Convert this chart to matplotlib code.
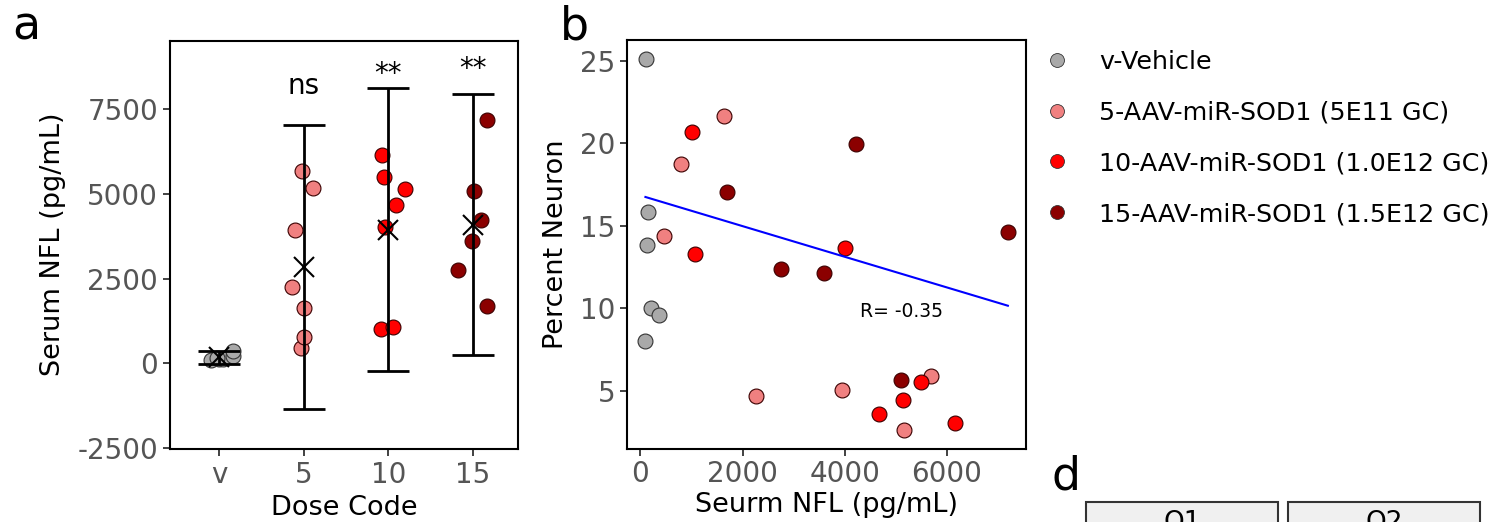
import numpy as np
import matplotlib
matplotlib.use("Agg")
import matplotlib.pyplot as plt
from matplotlib.lines import Line2D
from matplotlib.patches import Rectangle

plt.rcParams["font.family"] = ["DejaVu Sans"]
plt.rcParams["axes.unicode_minus"] = False

# group info
codes = ["v", "5", "10", "15"]
labels = [
    "v-Vehicle",
    "5-AAV-miR-SOD1 (5E11 GC)",
    "10-AAV-miR-SOD1 (1.0E12 GC)",
    "15-AAV-miR-SOD1 (1.5E12 GC)",
]
colors = ["#a9a9a9", "#f08080", "#ff0000", "#8b0000"]

# serum NFL (pg/mL) per animal, same order as neuron values
nfl_v = [97, 117, 130, 149, 214, 363]
nfl_5 = [461, 785, 1642, 2265, 3946, 5166, 5692]
nfl_10 = [1006, 1077, 4011, 4679, 5147, 5491, 6159]
nfl_15 = [1694, 2758, 3602, 4219, 5101, 7197]

# percent neuron per animal
neuron_v = [8.05, 25.1, 13.81, 15.83, 10.02, 9.62]
neuron_5 = [14.37, 18.74, 21.65, 4.70, 5.08, 2.64, 5.93]
neuron_10 = [20.65, 13.27, 13.63, 3.60, 4.44, 5.55, 3.04]
neuron_15 = [17.04, 12.40, 12.14, 19.97, 5.69, 14.61]

# strip jitter
jitter_v = [-0.09, 0.0, 0.05, -0.03, 0.17, 0.16]
jitter_5 = [-0.035, 0.0, 0.0, -0.142, -0.098, 0.114, -0.02]
jitter_10 = [-0.083, 0.06, -0.04, 0.094, 0.2, -0.05, -0.075]
jitter_15 = [0.169, -0.177, -0.008, 0.09, 0.016, 0.169]

sig_labels = ["", "ns", "**", "**"]
sig_y = [None, 7950, 8300, 8450]

# fitted line as shown in panel b
fit_slope = -0.000927
fit_intercept = 16.83
r_text = "R= -0.35"

nfl = [nfl_v, nfl_5, nfl_10, nfl_15]
neuron = [neuron_v, neuron_5, neuron_10, neuron_15]
jitter = [jitter_v, jitter_5, jitter_10, jitter_15]

W, H = 1501, 522
fig = plt.figure(figsize=(W / 100, H / 100), dpi=100)

tick_kw = dict(labelsize=20, labelcolor="#555555", color="#333333",
               length=5, width=1.3, direction="out")

# ---- panel a ----
ax_a = fig.add_axes([170 / W, (H - 448.7) / H, 348.3 / W, 408.2 / H])
for i in range(4):
    vals = np.array(nfl[i], dtype=float)
    xs = i + np.array(jitter[i])
    ax_a.scatter(xs, vals, s=115, color=colors[i],
                 edgecolor="#3a0000" if i else "#333333", linewidth=0.8, zorder=2)
    m = vals.mean()
    sd = vals.std(ddof=1)
    ax_a.errorbar(i, m, yerr=2 * sd, fmt="none", ecolor="black", elinewidth=2,
                  capsize=15, capthick=2, zorder=3)
    ax_a.plot(i, m, marker="x", color="black", markersize=14, mew=1.5, zorder=4)
    if sig_labels[i]:
        ax_a.text(i, sig_y[i], sig_labels[i], ha="center", va="baseline", fontsize=20)

ax_a.set_xticks(range(4))
ax_a.set_xticklabels(codes)
ax_a.set_yticks([-2500, 0, 2500, 5000, 7500])
ax_a.set_xlim(-0.58, 3.535)
ax_a.set_ylim(-2520, 9530)
ax_a.set_xlabel("Dose Code", fontsize=19.5, labelpad=5)
ax_a.set_ylabel("Serum NFL (pg/mL)", fontsize=19.5, labelpad=8)
ax_a.tick_params(**tick_kw)
for s in ax_a.spines.values():
    s.set_linewidth(1.5)

# ---- panel b ----
ax_b = fig.add_axes([627.3 / W, (H - 448.5) / H, 398.7 / W, 408.2 / H])
for i in range(4):
    ax_b.scatter(nfl[i], neuron[i], s=115, color=colors[i],
                 edgecolor="#3a0000" if i else "#333333", linewidth=0.8, zorder=2)

all_x = np.concatenate([np.array(v, dtype=float) for v in nfl])
fx = np.array([all_x.min(), all_x.max()])
ax_b.plot(fx, fit_slope * fx + fit_intercept, color="blue", linewidth=1.5, zorder=3)
ax_b.text(4300, 9.45, r_text, fontsize=13.5, va="baseline", ha="left")

ax_b.set_xticks([0, 2000, 4000, 6000])
ax_b.set_yticks([5, 10, 15, 20, 25])
ax_b.set_xlabel("Seurm NFL (pg/mL)", fontsize=19.5, labelpad=3)
ax_b.set_ylabel("Percent Neuron", fontsize=19.5, labelpad=8)
ax_b.tick_params(**tick_kw)
for s in ax_b.spines.values():
    s.set_linewidth(1.5)

# ---- legend ----
handles = [
    Line2D([], [], linestyle="none", marker="o", markersize=10, markerfacecolor=c,
           markeredgecolor="#333333", markeredgewidth=0.6)
    for c in colors
]
fig.legend(handles, labels, loc="upper left", bbox_to_anchor=(1032 / W, 1 - 50 / H),
           frameon=False, fontsize=18.3, handlelength=2.0, handletextpad=0.65,
           labelspacing=1.05, borderpad=0, borderaxespad=0)

# ---- panel letters ----
fig.text(12 / W, 1 - 39.3 / H, "a", fontsize=33, va="baseline")
fig.text(560 / W, 1 - 39.3 / H, "b", fontsize=33, va="baseline")
fig.text(1052 / W, 1 - 490 / H, "d", fontsize=33, va="baseline")

# ---- strip headers of panel d (cut at bottom) ----
for x0, x1, lab in [(1086, 1278, "Q1"), (1288, 1480, "Q2")]:
    fig.patches.append(Rectangle((x0 / W, -0.2), (x1 - x0) / W, 0.2 + (H - 502) / H,
                                 transform=fig.transFigure, facecolor="#f0f0f0",
                                 edgecolor="#333333", linewidth=1.5))
    fig.text((x0 + x1) / 2 / W, -0.0153, lab, ha="center", va="baseline", fontsize=19)

fig.savefig("out.png", dpi=100)
